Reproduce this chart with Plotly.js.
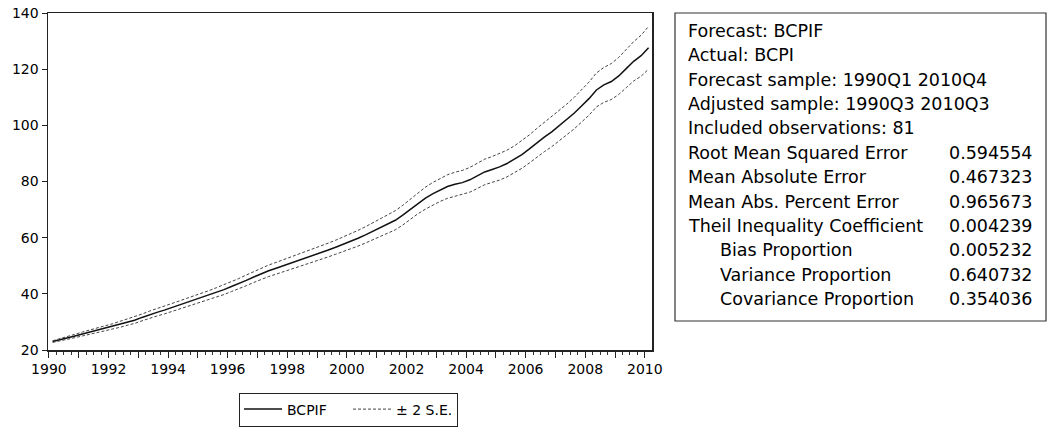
<!DOCTYPE html>
<html>
<head>
<meta charset="utf-8">
<script src="https://cdn.plot.ly/plotly-3.0.1.min.js"></script>
<style>
html,body{margin:0;padding:0;background:#fff;}
#chart{width:1049px;height:427px;}
</style>
</head>
<body>
<div id="chart"></div>
<script>
// Forecast sample shown: 1990Q3 .. 2010Q3 (81 quarterly observations)
const firstYear = 1990;
const firstQuarter = 3;
const forecastBCPIF = [
  23.0, 23.6, 24.3, 25.0, 25.7, 26.4, 27.0, 27.7, 28.3, 29.1,
  29.9, 30.6, 31.6, 32.6, 33.4, 34.2, 35.1, 36.0, 36.9, 37.7,
  38.6, 39.5, 40.5, 41.5, 42.6, 43.6, 44.8, 46.0, 47.2, 48.2,
  49.1, 50.0, 50.9, 51.8, 52.8, 53.7, 54.6, 55.6, 56.6, 57.6,
  58.7, 59.8, 61.0, 62.3, 63.6, 64.8, 66.2, 68.0, 70.1, 72.2,
  74.0, 75.6, 77.0, 78.2, 79.0, 79.6, 80.6, 82.0, 83.4, 84.3,
  85.2, 86.4, 87.9, 89.6, 91.6, 93.8, 95.8, 97.7, 99.8, 102.0,
  104.3, 106.9, 109.5, 112.6, 114.4, 115.6, 117.6, 120.2, 122.8, 124.8,
  127.6
];
const twoSE = [
  0.3, 0.4, 0.5, 0.6, 0.7, 0.8, 0.85, 0.9, 1.0, 1.05,
  1.1, 1.15, 1.2, 1.25, 1.3, 1.35, 1.4, 1.45, 1.5, 1.55,
  1.6, 1.65, 1.7, 1.75, 1.8, 1.85, 1.9, 1.95, 2.0, 2.05,
  2.1, 2.15, 2.2, 2.25, 2.3, 2.35, 2.4, 2.45, 2.5, 2.6,
  2.7, 2.8, 2.9, 3.0, 3.1, 3.25, 3.4, 3.5, 3.6, 3.75,
  3.9, 4.0, 4.1, 4.2, 4.3, 4.35, 4.4, 4.5, 4.55, 4.6,
  4.7, 4.75, 4.8, 4.9, 5.0, 5.1, 5.2, 5.3, 5.4, 5.5,
  5.6, 5.75, 5.9, 6.05, 6.2, 6.4, 6.6, 6.8, 7.0, 7.3,
  7.6
];
const yearTicks = [1990,1991,1992,1993,1994,1995,1996,1997,1998,1999,2000,
                   2001,2002,2003,2004,2005,2006,2007,2008,2009,2010];
const yearLabels = ['1990','','1992','','1994','','1996','','1998','','2000',
                    '','2002','','2004','','2006','','2008','','2010'];
const statLines = [
  'Forecast: BCPIF',
  'Actual: BCPI',
  'Forecast sample: 1990Q1 2010Q4',
  'Adjusted sample: 1990Q3 2010Q3',
  'Included observations: 81'
];
const statNames = ['Root Mean Squared Error','Mean Absolute Error','Mean Abs. Percent Error',
                   'Theil Inequality Coefficient','Bias Proportion','Variance Proportion','Covariance Proportion'];
const statValues = ['0.594554','0.467323','0.965673','0.004239','0.005232','0.640732','0.354036'];
const statIndent = [false,false,false,false,true,true,true];

// quarter positions on a decimal-year axis (EViews places each quarter inside its year slot)
const t = forecastBCPIF.map((_, i) => firstYear + (firstQuarter - 3) / 4 + 0.125 + i * 0.25);
const upper = forecastBCPIF.map((v, i) => v + twoSE[i]);
const lower = forecastBCPIF.map((v, i) => v - twoSE[i]);

const FONT = 'DejaVu Sans, Verdana, sans-serif';

const traces = [
  {x: t, y: forecastBCPIF, type: 'scatter', mode: 'lines', name: 'BCPIF',
   line: {color: '#111', width: 1.5}},
  {x: t, y: upper, type: 'scatter', mode: 'lines', name: '\u00b1\u00a02\u00a0S.E.', legendgroup: 'se',
   line: {color: '#444', width: 1, dash: '3px,2px'}},
  {x: t, y: lower, type: 'scatter', mode: 'lines', name: '\u00b1\u00a02\u00a0S.E.', legendgroup: 'se',
   showlegend: false, line: {color: '#444', width: 1, dash: '3px,2px'}}
];

// plot area pixels: left 48, right 652, top 13, bottom 350
const L = 48, R = 652, T = 13, B = 350;
const px = v => (v - L) / (R - L);
const py = v => (B - v) / (B - T);

const SFONT = {family: FONT, size: 17.5, color: '#000'};
const annotations = [];
const rowY0 = 31, rowStep = 24.36;
statLines.forEach((s, k) => {
  annotations.push({xref: 'paper', yref: 'paper', x: px(686), y: py(rowY0 + k * rowStep),
    xanchor: 'left', yanchor: 'middle', showarrow: false, text: s, font: SFONT});
});
statNames.forEach((s, k) => {
  const row = statLines.length + k;
  annotations.push({xref: 'paper', yref: 'paper', x: px(statIndent[k] ? 718 : 686), y: py(rowY0 + row * rowStep),
    xanchor: 'left', yanchor: 'middle', showarrow: false, text: s, font: SFONT});
  annotations.push({xref: 'paper', yref: 'paper', x: px(1035), y: py(rowY0 + row * rowStep),
    xanchor: 'right', yanchor: 'middle', showarrow: false, text: statValues[k], font: SFONT});
});

const layout = {
  width: 1049, height: 427,
  margin: {l: L, r: 1049 - R, t: T, b: 427 - B, pad: 0, autoexpand: false},
  paper_bgcolor: '#fff', plot_bgcolor: '#fff',
  showlegend: true,
  font: {family: FONT, size: 14, color: '#000'},
  xaxis: {
    range: [1989.97, 2010.24], tickmode: 'array', tickvals: yearTicks, ticktext: yearLabels,
    ticks: 'outside', ticklen: 6, tickwidth: 1, tickcolor: '#222',
    minor: {tickmode: 'linear', tick0: 1990, dtick: 0.25, ticks: 'outside', ticklen: 3, tickcolor: '#333', showgrid: false},
    showline: true, linecolor: '#222', linewidth: 1.5, mirror: true,
    showgrid: false, zeroline: false,
    tickfont: {family: FONT, size: 14, color: '#000'}
  },
  yaxis: {
    range: [20, 140], tick0: 20, dtick: 20,
    ticks: 'outside', ticklen: 5, tickwidth: 1, tickcolor: '#222',
    showline: true, linecolor: '#222', linewidth: 1.5, mirror: true,
    showgrid: false, zeroline: false,
    tickfont: {family: FONT, size: 14, color: '#000'}
  },
  legend: {
    orientation: 'h', x: px(239), xanchor: 'left', y: py(392.5), yanchor: 'top',
    bordercolor: '#222', borderwidth: 1, bgcolor: '#fff',
    itemwidth: 38, entrywidth: 56, entrywidthmode: 'pixels',
    font: {family: FONT, size: 14, color: '#000'}
  },
  shapes: [
    {type: 'rect', xref: 'paper', yref: 'paper', x0: px(675), x1: px(1046), y0: py(321), y1: py(13),
     line: {color: '#333', width: 1.2}, fillcolor: 'rgba(0,0,0,0)'}
  ],
  annotations: annotations
};

Plotly.newPlot('chart', traces, layout, {displayModeBar: false, staticPlot: true});
</script>
</body>
</html>
